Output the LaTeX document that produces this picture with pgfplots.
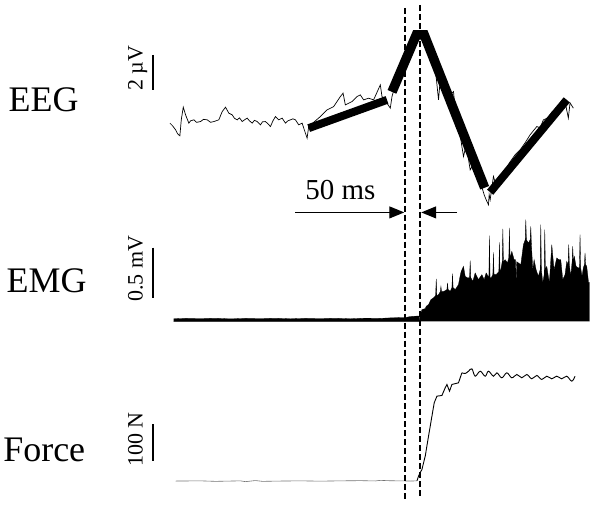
\documentclass[border=0pt]{standalone}
\usepackage{pgfplots}
\pgfplotsset{compat=1.18}
\usetikzlibrary{arrows.meta}
\usepackage{fontspec}
\setmainfont{Liberation Serif}
\begin{document}
\begin{tikzpicture}
\path (0,0) rectangle (600pt,509pt);
\begin{axis}[scale only axis, width=600pt, height=509pt,
  xmin=0, xmax=600, ymin=0, ymax=509, y dir=reverse,
  hide axis, clip=false]
% ---------- EEG thin trace ----------
\addplot[black, line width=0.7pt] coordinates {
(169.3,123.3)(172,126)(175,130)(177,134)(179.3,136)(180.7,120)(182.7,107.3)(185,115)(188.3,123.3)
(190,121)(193.3,120)(196,122.5)(200,121.7)(203,119.5)(206.7,120)(210,122.5)(213.3,121.7)(218.3,120)(221.7,111.7)(225,107.3)
(228.3,113.3)(231.7,115)(234,118.5)(236.7,120)(239,118)(241.7,121.7)(244,120)(246.7,118.3)(249,121)(251.7,123.3)
(254,120.5)(256.7,121.7)(260,125)(262,122)(265,121.7)(268,124.5)(270,126.7)(272.5,121)(275,116.7)(278.3,120)(281.7,118.3)
(285,123.3)(287.5,121)(290,120)(292.5,119)(295,120)(298.3,125)(301.7,123.3)(305,133.3)(306.7,138.3)
(308.3,126.7)(320,116.7)(326.7,110)(333.3,106.7)(340,96.7)(342.7,93.3)(345,105)
(351.7,101.7)(356.7,96.7)(360,95)(363.3,100)(368.3,98.3)(373.3,100)(380,85)
(381.7,96.7)(386.7,103.3)(390,108.3)(391.7,96.7)
(395,85)(400,72)(405,60)(410,48)(414,38)(418,33)(422,35)(425,42)(428,52)(430,44)
(432,60)(435,68)(438.3,100)(440,80)(445,90)(450,95)(453.3,91.7)(455,110)(458,122)
(461.7,146.7)(463.3,156.7)(466,145)(470,170)(473,165)(476,175)(478.3,171.7)
(481,185)(484,195)(486,200)(488.3,205)(489,195)(490,200)(493.3,176.7)(496,186)
(500,180)(505,170)(510,162)(515,155)(520,150)(525,143)(530,135)(536.7,126.7)
(540,128)(543.3,120)(548,118)(552,112)(556,110)(560,106)(565,102)(568.3,118.3)
(570,103)(573.3,108.3)
};
% ---------- EEG thick segments ----------
\addplot[black, line width=8pt, line cap=butt] coordinates {(308.3,128.3)(386.7,100)};
\addplot[black, line width=9.5pt, line cap=butt, line join=miter] coordinates {(391.7,92)(416,35)(424,35)(484.5,188)};
\addplot[black, line width=8pt, line cap=butt] coordinates {(490,192.5)(566.7,100)};
% ---------- EMG baseline band ----------
\addplot[black, fill=black, line width=0.3pt] coordinates {
(173,319.2)(185,318.8)(200,319)(215,318.7)(230,319.3)(245,318.8)(260,319)(275,318.7)(290,319.2)(305,318.8)(320,319)(335,318.7)(350,319.2)(365,318.6)(380,318.8)
(390,318.3)(400,318)(405,318)(410,317)(415,316.6)(419,316.5)
(419,322)(173,322)
};
% ---------- EMG burst ----------
\addplot[black, fill=black, line width=0.3pt] coordinates {
(419,321.7)(420,316)(421.7,310)(425,309)(426,306.7)(428.3,305)(430.7,300)(433.3,298.3)
(435.4,296)(436,279.3)(436.6,296)(438.3,295)
(440.1,292)(440.7,286.7)(441.3,292)(443.3,292)
(446.7,290)(447.3,283.3)(447.9,290)(450,291.7)
(451.7,288)(452.3,274)(452.9,288)(455,290)(458.3,285)
(460,276)(461,271.7)(463.3,266.7)(465,276.7)(467.3,278.3)
(469.4,278)(470,261)(470.6,278)(472.7,281.7)(475,273.3)(478.3,280)(481.7,275)
(484,280)(486,273.3)
(488.7,278)(489.3,236)(489.9,278)(491,278.3)
(492.7,275)(493.3,252.7)(493.9,275)(496,275)
(498.7,272)(499.3,242.7)(499.9,272)(500.7,270)
(502.1,262)(502.7,229.3)(503.3,262)(505,260)(507.3,263.3)
(508.7,258)(509.3,228.3)(509.9,258)(511.7,251.7)
(514,260)(515.4,260)(516,282.7)(516.6,262)(518.3,263.3)(520.7,265)(523.3,245)
(525.1,240)(525.7,220)(526.3,240)(528.3,243.3)
(530.1,240)(530.7,226.7)(531.3,245)(532.7,270)(534,260)(536,270)(538.3,276.7)
(540.1,270)(540.7,225)(541.3,270)(542.7,283.3)
(544.1,275)(544.7,230)(545.3,270)(546.7,266.7)(549.3,283.3)(551.7,245)(554,270)
(556.7,258.3)(558.7,260)(560.7,260)(562.7,280)(565,275)(566.7,261.7)
(568.1,265)(568.7,245)(569.3,265)(570.7,276.7)
(572.1,262)(572.7,246.7)(573.3,262)(574.3,256.7)(576,266.7)(578.3,268.3)
(579.4,268)(580,235)(580.6,268)(582,276.7)(583.3,268.3)
(584.4,265)(585,253.3)(585.6,265)(586.7,266.7)(588.5,282.7)(589.3,282.7)
(589.3,321.7)
};
% ---------- Force ----------
\addplot[black!55, line width=0.6pt] coordinates {
(175,481.7)(200,481.5)(215,482)(240,481.5)(245,482.3)(255,481.2)(262,482)(280,481.7)
(300,481.5)(320,481.8)(340,481.5)(360,481.3)(375,481.6)(380,481)(390,481.4)
(400,481.5)(410,481.7)(416.7,481.5)
};
\addplot[black, line width=0.9pt] coordinates {
(416.7,481.5)(418.3,476.7)(421.7,470)(425,456.7)(428.3,436.7)(431.7,416.7)(434,403.3)
(436.7,396.7)(441.7,396)(445,388.3)(446.7,385)(449.3,391.7)(451.7,385)(458.3,383.3)
(461.7,373.3)
};
\addplot[black, line width=0.9pt, smooth, tension=0.6] coordinates {
(461.7,373.3)(465,374)(468.3,371.7)(471.7,369.3)(475,376.7)(480,371.7)(485,376.7)
(488.3,371.7)(493.3,376.7)(496.7,373.3)(501.7,378.3)(506.7,373.3)(511.7,378.3)
(516.7,375)(521.7,378.3)(526.7,375)(531.7,379.3)(536.7,376)(541.7,380)(546.7,376.7)
(551.7,379.3)(556.7,376.7)(561.7,379.3)(566.7,376.7)(571.7,381.7)(575,376.7)
};
% ---------- scale bars ----------
\addplot[black, line width=2pt] coordinates {(152,55)(152,90)};
\addplot[black, line width=2pt] coordinates {(152,248)(152,298)};
\addplot[black, line width=2pt] coordinates {(152,425)(152,462)};
% ---------- dashed onset lines ----------
\addplot[black, line width=1.9pt, dash pattern=on 6pt off 3pt] coordinates {(405,8)(405,502)};
\addplot[black, line width=1.9pt, dash pattern=on 6pt off 3pt] coordinates {(420,5)(420,497)};
% ---------- arrows ----------
\draw[black, line width=1.2pt, -{Triangle[length=15pt,width=12pt]}] (axis cs:295,212.7) -- (axis cs:404,212.7);
\draw[black, line width=1.2pt, -{Triangle[length=15pt,width=12pt]}] (axis cs:457,212.7) -- (axis cs:421,212.7);
% ---------- texts ----------
\node[anchor=base, font=\fontsize{36}{40}\selectfont] at (axis cs:42.8,111.7) {EEG};
\node[anchor=base, font=\fontsize{36}{40}\selectfont] at (axis cs:45.8,293) {EMG};
\node[anchor=base, font=\fontsize{36}{40}\selectfont] at (axis cs:43.5,461.7) {Force};
\node[anchor=base, font=\fontsize{29}{32}\selectfont] at (axis cs:340,200) {50 ms};
\node[anchor=base, rotate=90, font=\fontsize{22}{26}\selectfont] at (axis cs:142,68.3) {2 µV};
\node[anchor=base, rotate=90, font=\fontsize{22}{26}\selectfont] at (axis cs:142,269) {0.5 mV};
\node[anchor=base, rotate=90, font=\fontsize{22}{26}\selectfont] at (axis cs:142,440) {100 N};
\end{axis}
\end{tikzpicture}
\end{document}
